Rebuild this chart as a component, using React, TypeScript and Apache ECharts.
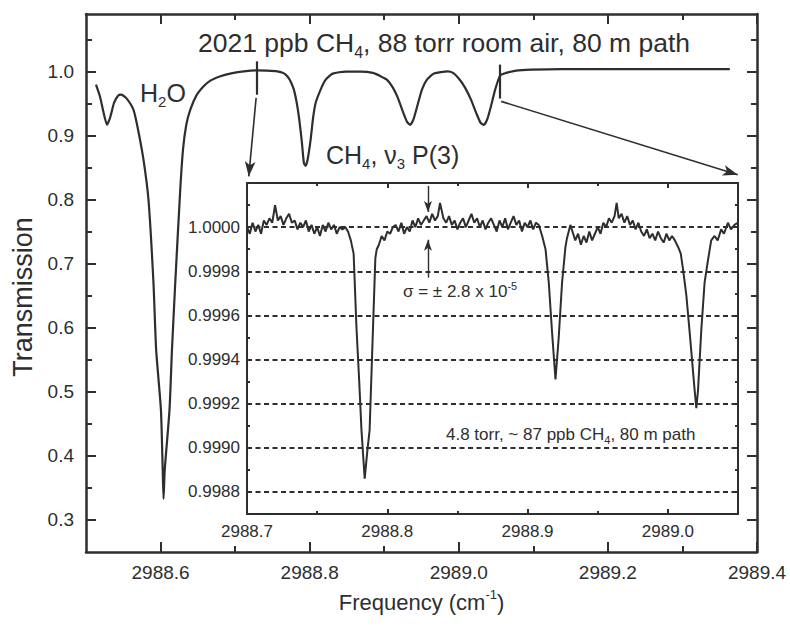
import React, { useEffect, useRef } from "react";
import * as echarts from "echarts";

// ---- Main spectrum (room air, 88 torr) ----
const mainFreq = [
  2988.5134, 2988.5188, 2988.5242, 2988.5282, 2988.5323, 2988.5377, 2988.543, 2988.5471, 2988.5538, 2988.5636,
  2988.5699, 2988.5771, 2988.5838, 2988.5905, 2988.5941, 2988.6005, 2988.6029, 2988.604, 2988.6056, 2988.612,
  2988.6153, 2988.6197, 2988.6264, 2988.6301, 2988.6345, 2988.6399, 2988.648, 2988.6578, 2988.6668, 2988.6802,
  2988.6964, 2988.7116, 2988.7296, 2988.7421, 2988.7565, 2988.765, 2988.77, 2988.7748, 2988.7788, 2988.7824,
  2988.7855, 2988.7892, 2988.7923, 2988.7946, 2988.7972, 2988.8013, 2988.8046, 2988.808, 2988.8147, 2988.8215,
  2988.8309, 2988.8483, 2988.8685, 2988.8847, 2988.8954, 2988.9035, 2988.9116, 2988.9183, 2988.925, 2988.9304,
  2988.9348, 2988.9391, 2988.9438, 2988.9506, 2988.9573, 2988.9667, 2988.9851, 2988.9923, 2989.0003, 2989.0084,
  2989.0165, 2989.0232, 2989.0293, 2989.0336, 2989.038, 2989.0434, 2989.0488, 2989.0555, 2989.0636, 2989.077,
  2989.0972, 2989.1375, 2989.3635,
];
const mainTrans = [
  0.9797, 0.9609, 0.9328, 0.9172, 0.928, 0.9516, 0.9625, 0.964, 0.959, 0.9406,
  0.909, 0.8625, 0.8, 0.67, 0.5656, 0.4719, 0.378, 0.333, 0.378, 0.4719,
  0.5656, 0.67, 0.8156, 0.8781, 0.917, 0.9406, 0.9625, 0.977, 0.986, 0.9927,
  0.9977, 1.0005, 1.002, 1.0016, 1.0005, 0.9977, 0.9927, 0.984, 0.972, 0.953,
  0.93, 0.894, 0.857, 0.853, 0.8625, 0.894, 0.928, 0.951, 0.972, 0.9875,
  0.9969, 1.0, 1.0, 0.998, 0.9927, 0.9875, 0.975, 0.959, 0.9375, 0.922,
  0.917, 0.925, 0.944, 0.972, 0.9875, 0.997, 1.0005, 0.998, 0.989, 0.975,
  0.956, 0.936, 0.92, 0.917, 0.925, 0.947, 0.972, 0.994, 0.998, 1.0016,
  1.003, 1.004, 1.004,
];

// ---- Inset spectrum (4.8 torr), deviation from 1 in units of 1e-5 ----
const insetFreq = [
  // baseline
  2988.700, 2988.702, 2988.704, 2988.706, 2988.708, 2988.710, 2988.712, 2988.714, 2988.716, 2988.718,
  2988.720, 2988.722, 2988.724, 2988.726, 2988.728, 2988.730, 2988.732, 2988.734, 2988.736, 2988.738,
  2988.740, 2988.742, 2988.744, 2988.746, 2988.748, 2988.750, 2988.752, 2988.754, 2988.756, 2988.758,
  2988.760, 2988.762, 2988.764, 2988.766, 2988.768, 2988.770,
  // line 1
  2988.772, 2988.774, 2988.776, 2988.778, 2988.780, 2988.7816, 2988.7839, 2988.7857, 2988.7874, 2988.7898,
  2988.7915, 2988.7925, 2988.794, 2988.796, 2988.798, 2988.800, 2988.802, 2988.804,
  // baseline
  2988.806, 2988.808, 2988.810, 2988.812, 2988.814, 2988.816, 2988.818, 2988.820, 2988.822, 2988.824,
  2988.826, 2988.828, 2988.830, 2988.832, 2988.834, 2988.836, 2988.8376, 2988.840, 2988.842, 2988.844,
  2988.846, 2988.848, 2988.850, 2988.852, 2988.854, 2988.856, 2988.858, 2988.860, 2988.862, 2988.864,
  2988.866, 2988.868, 2988.870, 2988.872, 2988.874, 2988.876, 2988.878, 2988.880, 2988.882, 2988.884,
  2988.886, 2988.888, 2988.890, 2988.892, 2988.894, 2988.896, 2988.898, 2988.900, 2988.902, 2988.904,
  2988.906, 2988.908,
  // line 2
  2988.9104, 2988.9128, 2988.9151, 2988.9175, 2988.9199, 2988.9222, 2988.9246, 2988.927, 2988.9281, 2988.9305,
  // baseline
  2988.932, 2988.934, 2988.936, 2988.938, 2988.940, 2988.942, 2988.944, 2988.946, 2988.948, 2988.950,
  2988.952, 2988.954, 2988.956, 2988.958, 2988.960, 2988.962, 2988.9635, 2988.965, 2988.967, 2988.969,
  2988.971, 2988.973, 2988.975, 2988.977, 2988.979, 2988.981, 2988.983, 2988.985, 2988.987, 2988.989,
  2988.991, 2988.993, 2988.995, 2988.997, 2988.999, 2989.001, 2989.003,
  // line 3
  2989.005, 2989.0073, 2989.0092, 2989.0108, 2989.0132, 2989.0156, 2989.0191, 2989.0203, 2989.0215, 2989.0238,
  2989.0262, 2989.0286, 2989.0309, 2989.0333, 2989.0355, 2989.038, 2989.040, 2989.0428, 2989.045, 2989.0475,
  2989.050,
];
const insetDev = [
  0, -3, 2, -2, 1, -3, 3, 1, 4, 2,
  10, 3, 5, 1, 4, 6, 2, 3, -1, 2,
  0, 3, -2, 1, -3, 0, -4, 1, -2, 2,
  -1, 1, -3, 0, -1, 0,
  -2, -6, -12, -45, -70, -92, -114, -102, -92, -46,
  -14, -10, -8, -4, -6, -2, -3, 0,
  1, -2, 2, -3, 0, -2, 3, 0, 4, 1,
  3, 5, 2, 6, 3, 5, 11, 4, 2, 5,
  1, 3, -1, 2, 4, 0, 3, 6, 2, 4,
  0, 3, -1, 2, 4, 1, -2, 3, 0, 4,
  -1, 2, 5, 1, 3, -2, 2, 0, 3, -1,
  2, 1,
  -4, -10, -25, -48, -69, -50, -25, -9, -5, 1,
  -2, -6, -3, -8, -4, -7, -2, -6, -3, 0,
  -3, 2, 0, 4, 2, 5, 11, 4, 6, 2,
  5, 1, 3, -1, 2, -2, -4, -1, -5, -3,
  -6, -2, -5, -7, -3, -6, -4,
  -6, -9, -12, -19, -31, -48, -74, -82, -74, -47,
  -25, -15, -6, -4, -6, -1, -3, 2, -1, 1,
  2,
];

// ---- Tick values ----
const mainXLabels = [2988.6, 2988.8, 2989.0, 2989.2, 2989.4];
const mainXMinor = [2988.7, 2988.9, 2989.1, 2989.3];
const mainYLabels = [0.3, 0.4, 0.5, 0.6, 0.7, 0.8, 0.9, 1.0];
const mainYMinor = [0.35, 0.45, 0.55, 0.65, 0.75, 0.85, 0.95, 1.05];
const insetXLabels = [2988.7, 2988.8, 2988.9, 2989.0];
const insetXMinor = [2988.75, 2988.85, 2988.95];
const insetYLabels = [0.9988, 0.999, 0.9992, 0.9994, 0.9996, 0.9998, 1.0];
const insetYMinor = [0.9989, 0.9991, 0.9993, 0.9995, 0.9997, 0.9999, 1.0001];

// ---- Annotation anchors (data coordinates) ----
const markerLines = [
  [2988.7296, 1.0161, 0.964],
  [2989.0555, 1.011, 0.958],
];
const zoomArrows = [
  [2988.7282, 0.959, 2988.7183, 0.8364],
  [2989.0568, 0.9536, 2989.3742, 0.839],
];
const sigmaArrows = [
  [2988.829, 1.000187, 1.000069],
  [2988.829, 0.999771, 0.999943],
];

const INK = "#2e2e2e";
const FONT = "'Liberation Sans', Arial, Helvetica, sans-serif";

type AxOpt = {
  grid: number; pos: string; min: number; max: number; line: boolean; lw?: number;
  ticks: number[]; len: number; tw?: number; labels?: number[]; dec?: number; fs?: number; margin?: number;
};
const mkAxis = (o: AxOpt) => ({
  type: "value",
  gridIndex: o.grid,
  position: o.pos,
  min: o.min,
  max: o.max,
  axisLine: { show: o.line, onZero: false, lineStyle: { color: INK, width: o.lw ?? 2 } },
  axisTick: { show: true, inside: true, length: o.len, customValues: o.ticks, lineStyle: { color: INK, width: o.tw ?? 2 } },
  axisLabel: o.labels
    ? {
        show: true,
        customValues: o.labels,
        formatter: (v: number) => v.toFixed(o.dec ?? 1),
        fontSize: o.fs,
        color: INK,
        fontFamily: FONT,
        margin: o.margin,
      }
    : { show: false },
  splitLine: { show: false },
  minorTick: { show: false },
});

const mkRich = (big: number, small: number, lh: number, slh: number) => ({
  n: { fontSize: big, fontFamily: FONT, lineHeight: lh, fill: INK, color: INK },
  s: { fontSize: small, fontFamily: FONT, lineHeight: slh, verticalAlign: "bottom", fill: INK, color: INK },
  p: { fontSize: small, fontFamily: FONT, lineHeight: slh, verticalAlign: "top", fill: INK, color: INK },
});
const richTitle = mkRich(26.5, 16, 34, 14);
const richBig = mkRich(25, 15, 32, 14);
const richSmall = mkRich(17, 11, 22, 10);

export default function App() {
  const ref = useRef<HTMLDivElement>(null);
  useEffect(() => {
    document.body.style.margin = "0";
    if (!ref.current) return;
    const chart = echarts.init(ref.current, undefined, { renderer: "svg" });

    const MX = [2988.5, 2989.4];
    const MY = [0.25, 1.09];
    const IX = [2988.7, 2989.05];
    const IY = [0.9987, 1.0002];

    const option: any = {
      animation: false,
      backgroundColor: "#ffffff",
      grid: [
        { left: 86, top: 14, width: 671, height: 538, show: false },
        { left: 247, top: 183, width: 491, height: 331, show: true, backgroundColor: "#ffffff", borderWidth: 0 },
      ],
      xAxis: [
        {
          ...mkAxis({ grid: 0, pos: "bottom", min: MX[0], max: MX[1], line: true, lw: 2.5, ticks: mainXLabels, len: 10, labels: mainXLabels, dec: 1, fs: 19, margin: 11 }),
          name: "{n|Frequency (cm}{p|-1}{n|)}",
          nameLocation: "middle",
          nameGap: 36,
          nameTextStyle: {
            rich: {
              n: { fontSize: 22, fontFamily: FONT, color: INK, lineHeight: 28 },
              p: { fontSize: 13, fontFamily: FONT, color: INK, lineHeight: 12, verticalAlign: "top" },
            },
          },
        },
        mkAxis({ grid: 0, pos: "bottom", min: MX[0], max: MX[1], line: false, ticks: mainXMinor, len: 6 }),
        mkAxis({ grid: 0, pos: "top", min: MX[0], max: MX[1], line: true, lw: 2.5, ticks: mainXLabels, len: 10 }),
        mkAxis({ grid: 0, pos: "top", min: MX[0], max: MX[1], line: false, ticks: mainXMinor, len: 6 }),
        mkAxis({ grid: 1, pos: "bottom", min: IX[0], max: IX[1], line: true, ticks: insetXLabels, len: 5, labels: insetXLabels, dec: 1, fs: 17, margin: 9 }),
        mkAxis({ grid: 1, pos: "bottom", min: IX[0], max: IX[1], line: false, ticks: insetXMinor, len: 3 }),
        mkAxis({ grid: 1, pos: "top", min: IX[0], max: IX[1], line: true, ticks: insetXLabels, len: 5 }),
        mkAxis({ grid: 1, pos: "top", min: IX[0], max: IX[1], line: false, ticks: insetXMinor, len: 3 }),
      ],
      yAxis: [
        {
          ...mkAxis({ grid: 0, pos: "left", min: MY[0], max: MY[1], line: true, lw: 2.5, ticks: mainYLabels, len: 10, labels: mainYLabels, dec: 1, fs: 19, margin: 12 }),
          name: "Transmission",
          nameLocation: "middle",
          nameGap: 49,
          nameRotate: 90,
          nameTextStyle: { fontSize: 27, fontFamily: FONT, color: INK, padding: [0, 28, 0, 0] },
        },
        mkAxis({ grid: 0, pos: "left", min: MY[0], max: MY[1], line: false, ticks: mainYMinor, len: 6 }),
        mkAxis({ grid: 0, pos: "right", min: MY[0], max: MY[1], line: true, lw: 2.5, ticks: mainYLabels, len: 10 }),
        mkAxis({ grid: 0, pos: "right", min: MY[0], max: MY[1], line: false, ticks: mainYMinor, len: 6 }),
        mkAxis({ grid: 1, pos: "left", min: IY[0], max: IY[1], line: true, ticks: insetYLabels, len: 5, labels: insetYLabels, dec: 4, fs: 17, margin: 7 }),
        mkAxis({ grid: 1, pos: "left", min: IY[0], max: IY[1], line: false, ticks: insetYMinor, len: 3 }),
        mkAxis({ grid: 1, pos: "right", min: IY[0], max: IY[1], line: true, ticks: insetYLabels, len: 5 }),
        mkAxis({ grid: 1, pos: "right", min: IY[0], max: IY[1], line: false, ticks: insetYMinor, len: 3 }),
      ],
      series: [
        {
          type: "line",
          xAxisIndex: 0,
          yAxisIndex: 0,
          data: mainFreq.map((f, i) => [f, mainTrans[i]]),
          symbol: "none",
          smooth: 0.2,
          lineStyle: { color: INK, width: 2.2 },
          z: 3,
          markLine: {
            silent: true,
            precision: 6,
            emphasis: { disabled: true },
            label: { show: false },
            symbol: ["none", "none"],
            lineStyle: { color: INK, width: 2.2, type: "solid" },
            data: [
              ...markerLines.map(([f, a, b]) => [{ coord: [f, a] }, { coord: [f, b] }]),
              ...zoomArrows.map(([x1, y1, x2, y2]) => [
                { coord: [x1, y1], symbol: "none", lineStyle: { color: INK, width: 1.6, type: "solid" } },
                { coord: [x2, y2], symbol: "arrow", symbolSize: [8, 15] },
              ]),
            ],
          },
        },
        {
          type: "line",
          xAxisIndex: 4,
          yAxisIndex: 4,
          data: insetFreq.map((f, i) => [f, 1 + insetDev[i] * 1e-5]),
          symbol: "none",
          lineStyle: { color: INK, width: 2 },
          z: 4,
          markLine: {
            silent: true,
            precision: 6,
            emphasis: { disabled: true },
            label: { show: false },
            symbol: ["none", "none"],
            lineStyle: { color: INK, width: 1.8, type: [5, 3.5] },
            data: [
              ...insetYLabels.map((v) => [{ coord: [IX[0], v] }, { coord: [IX[1], v] }]),
              ...sigmaArrows.map(([f, a, b]) => [
                { coord: [f, a], symbol: "none", lineStyle: { color: INK, width: 1.4, type: "solid" } },
                { coord: [f, b], symbol: "arrow", symbolSize: [6, 11] },
              ]),
            ],
          },
        },
      ],
      graphic: [
        {
          type: "text",
          x: 444,
          y: 43,
          style: { text: "{n|2021 ppb CH}{s|4}{n|, 88 torr room air, 80 m path}", rich: richTitle, align: "center", verticalAlign: "middle", fill: INK },
        },
        {
          type: "text",
          x: 140,
          y: 93,
          style: { text: "{n|H}{s|2}{n|O}", rich: richBig, align: "left", verticalAlign: "middle", fill: INK },
        },
        {
          type: "text",
          x: 326,
          y: 155,
          style: { text: "{n|CH}{s|4}{n|, ν}{s|3}{n| P(3)}", rich: richBig, align: "left", verticalAlign: "middle", fill: INK },
        },
        {
          type: "text",
          x: 403,
          y: 291,
          style: { text: "{n|σ = ± 2.8 x 10}{p|-5}", rich: richSmall, align: "left", verticalAlign: "middle", fill: INK },
        },
        {
          type: "text",
          x: 446,
          y: 434,
          style: { text: "{n|4.8 torr, ~ 87 ppb CH}{s|4}{n|, 80 m path}", rich: richSmall, align: "left", verticalAlign: "middle", fill: INK },
        },
      ],
    };

    chart.setOption(option);
    return () => chart.dispose();
  }, []);

  return <div ref={ref} style={{ width: 790, height: 632 }} />;
}
